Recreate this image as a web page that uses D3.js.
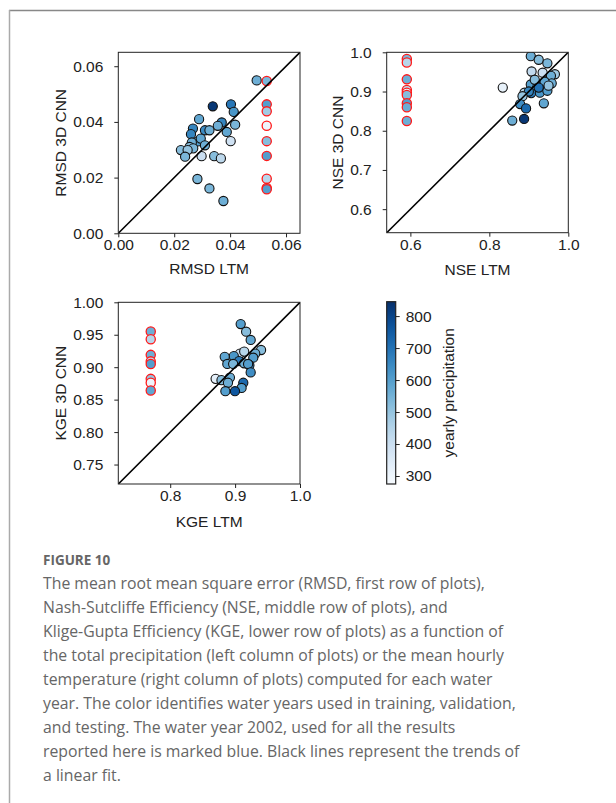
<!DOCTYPE html>
<html><head><meta charset="utf-8">
<script src="https://cdn.jsdelivr.net/npm/d3@7"></script>
<style>
html,body{margin:0;padding:0;background:#fff;}
svg{display:block;}
.tk text{font-family:'Liberation Sans', Arial, sans-serif !important; font-size:15.5px !important; fill:#222;}
</style></head>
<body>
<svg id="c" width="616" height="803"></svg>
<script>
// ---------- DATA ----------
// RMSD panel (blue: years with both models)
const rmsdLtm  = [0.0495,0.0338,0.0403,0.0413,0.0289,0.0370,0.0418,0.0356,0.0267,0.0310,0.0326,0.0388,0.0260,0.0285,0.0295,0.0402,0.0263,0.0310,0.0255,0.0268,0.0224,0.0248,0.0239,0.0298,0.0343,0.0367,0.0283,0.0326,0.0376];
const rmsdCnn  = [0.0549,0.0456,0.0463,0.0436,0.0410,0.0398,0.0390,0.0386,0.0376,0.0370,0.0370,0.0364,0.0356,0.0330,0.0340,0.0331,0.0326,0.0316,0.0310,0.0305,0.0299,0.0299,0.0275,0.0277,0.0277,0.0269,0.0195,0.0161,0.0116];
const rmsdPrec = [560,830,690,620,580,660,540,560,660,650,560,580,660,600,580,390,560,560,520,540,520,500,540,400,520,430,540,540,560];
const rmsdRedX = 0.0531;
const rmsdRedCnn  = [0.0547,0.0463,0.0438,0.0386,0.0331,0.0278,0.0196,0.0163,0.0158];
const rmsdRedPrec = [540,600,480,300,520,600,440,560,600];

// NSE panel
const nseLtm  = [0.905,0.925,0.947,0.907,0.935,0.966,0.956,0.834,0.905,0.938,0.958,0.920,0.915,0.940,0.889,0.906,0.928,0.947,0.925,0.900,0.950,0.884,0.878,0.893,0.938,0.858,0.888];
const nseCnn  = [0.990,0.981,0.972,0.951,0.948,0.944,0.940,0.910,0.918,0.918,0.921,0.908,0.930,0.925,0.897,0.896,0.897,0.902,0.910,0.900,0.915,0.888,0.868,0.857,0.870,0.826,0.830];
const nsePrec = [560,520,540,420,400,480,560,320,600,640,560,560,520,580,440,680,620,600,700,660,500,500,640,720,580,560,830];
const nseRedX = 0.591;
const nseRedCnn  = [0.983,0.974,0.931,0.904,0.897,0.891,0.870,0.860,0.825];
const nseRedPrec = [540,440,560,430,300,520,600,560,560];

// KGE panel
const kgeLtm  = [0.9086,0.917,0.924,0.940,0.931,0.9075,0.914,0.898,0.884,0.928,0.906,0.922,0.888,0.914,0.920,0.897,0.924,0.870,0.879,0.892,0.889,0.9126,0.910,0.885,0.8998];
const kgeCnn  = [0.9665,0.9547,0.942,0.9265,0.921,0.921,0.924,0.917,0.916,0.9146,0.9095,0.903,0.905,0.906,0.905,0.905,0.892,0.882,0.880,0.884,0.876,0.876,0.868,0.863,0.863];
const kgePrec = [600,520,580,520,560,400,440,620,580,600,680,660,580,560,600,540,640,330,520,560,560,720,600,600,760];
const kgeRedX = 0.770;
const kgeRedCnn  = [0.955,0.943,0.919,0.909,0.905,0.882,0.876,0.864];
const kgeRedPrec = [560,440,560,430,600,500,300,580];

// axes ticks
const rmsdTicks = [0.00,0.02,0.04,0.06];
const nseXTicks = [0.6,0.8,1.0];
const nseYTicks = [0.6,0.7,0.8,0.9,1.0];
const kgeXTicks = [0.8,0.9,1.0];
const kgeYTicks = [0.75,0.80,0.85,0.90,0.95,1.00];
const cbTicks   = [300,400,500,600,700,800];
const cbDomain  = [275,845];

const captionTitle = "FIGURE 10";
const captionLines = [
 "The mean root mean square error (RMSD, first row of plots),",
 "Nash-Sutcliffe Efficiency (NSE, middle row of plots), and",
 "Klige-Gupta Efficiency (KGE, lower row of plots) as a function of",
 "the total precipitation (left column of plots) or the mean hourly",
 "temperature (right column of plots) computed for each water",
 "year. The color identifies water years used in training, validation,",
 "and testing. The water year 2002, used for all the results",
 "reported here is marked blue. Black lines represent the trends of",
 "a linear fit."
];

// ---------- DRAW ----------
const svg = d3.select("#c");
const FONT = "'Liberation Sans', Arial, sans-serif";
const FS = 15.5;
const color = d3.scaleSequential(d3.interpolateBlues).domain(cbDomain);

// frame
svg.append("line").attr("x1",9).attr("x2",616).attr("y1",10.5).attr("y2",10.5).attr("stroke","#888").attr("stroke-width",1.5);
svg.append("line").attr("x1",9.5).attr("x2",9.5).attr("y1",10).attr("y2",803).attr("stroke","#aaa").attr("stroke-width",1.5);

function panel(o){
  const g = svg.append("g").attr("transform",`translate(${o.left},${o.top})`);
  const x = d3.scaleLinear().domain(o.dom).range([0,o.w]);
  const y = d3.scaleLinear().domain(o.dom).range([o.h,0]);
  const clipId = "clip"+o.id;
  g.append("clipPath").attr("id",clipId).append("rect").attr("width",o.w).attr("height",o.h);

  const xa = g.append("g").attr("class","tk").attr("transform",`translate(0,${o.h})`)
    .call(d3.axisBottom(x).tickValues(o.xt).tickFormat(d3.format(o.xf)).tickSize(4).tickPadding(2).tickSizeOuter(0));
  const ya = g.append("g").attr("class","tk")
    .call(d3.axisLeft(y).tickValues(o.yt).tickFormat(d3.format(o.yf)).tickSize(4).tickPadding(11).tickSizeOuter(0));
  [xa,ya].forEach(a=>{
    a.attr("font-size",null).attr("font-family",null);
    a.select(".domain").remove();
    a.selectAll("line").attr("stroke","#222");
  });

  const pts = g.append("g").attr("clip-path",`url(#${clipId})`);
  const blue = o.lx.map((v,i)=>({x:v,y:o.ly[i],p:o.lp[i]}));
  pts.selectAll("circle.b").data(blue).join("circle").attr("class","b")
    .attr("cx",d=>x(d.x)).attr("cy",d=>y(d.y)).attr("r",4.6)
    .attr("fill",d=>color(d.p)).attr("stroke","#111").attr("stroke-width",1.1);
  const red = o.ry.map((v,i)=>({x:o.rx,y:v,p:o.rp[i]}));
  pts.selectAll("circle.r").data(red).join("circle").attr("class","r")
    .attr("cx",d=>x(d.x)).attr("cy",d=>y(d.y)).attr("r",4.6)
    .attr("fill",d=>color(d.p)).attr("stroke","#ff1a1a").attr("stroke-width",1.3);
  pts.append("line").attr("x1",x(o.dom[0])).attr("y1",y(o.dom[0])).attr("x2",x(o.dom[1])).attr("y2",y(o.dom[1]))
    .attr("stroke","#000").attr("stroke-width",1.6);

  g.append("rect").attr("width",o.w).attr("height",o.h).attr("fill","none").attr("stroke","#222").attr("stroke-width",1);

  g.append("text").attr("x",o.w/2).attr("y",o.h+o.xlOff).attr("text-anchor","middle")
    .style("font-family",FONT).style("font-size",FS+"px").attr("fill","#222").text(o.xl);
  g.append("text").attr("transform",`translate(${o.ylX},${o.h/2}) rotate(-90)`).attr("text-anchor","middle")
    .style("font-family",FONT).style("font-size",FS+"px").attr("fill","#222").text(o.yl);
}

panel({id:1,left:118.3,top:52.3,w:181.7,h:181,dom:[0,0.065],xt:rmsdTicks,yt:rmsdTicks,xf:".2f",yf:".2f",
  lx:rmsdLtm,ly:rmsdCnn,lp:rmsdPrec,rx:rmsdRedX,ry:rmsdRedCnn,rp:rmsdRedPrec,
  xl:"RMSD LTM",yl:"RMSD 3D CNN",xlOff:41,ylX:-52.5});
panel({id:2,left:386.7,top:52.3,w:181.6,h:180.4,dom:[0.54,1.0],xt:nseXTicks,yt:nseYTicks,xf:".1f",yf:".1f",
  lx:nseLtm,ly:nseCnn,lp:nsePrec,rx:nseRedX,ry:nseRedCnn,rp:nseRedPrec,
  xl:"NSE LTM",yl:"NSE 3D CNN",xlOff:42,ylX:-44});
panel({id:3,left:118.3,top:302.3,w:181.7,h:181.7,dom:[0.72,1.0],xt:kgeXTicks,yt:kgeYTicks,xf:".1f",yf:".2f",
  lx:kgeLtm,ly:kgeCnn,lp:kgePrec,rx:kgeRedX,ry:kgeRedCnn,rp:kgeRedPrec,
  xl:"KGE LTM",yl:"KGE 3D CNN",xlOff:43.5,ylX:-52.5});

// colorbar
(function(){
  const L=386.7, T=301.7, W=9, H=182.3;
  const defs = svg.append("defs");
  const grad = defs.append("linearGradient").attr("id","cbg").attr("x1",0).attr("x2",0).attr("y1",1).attr("y2",0);
  d3.range(0,1.0001,0.05).forEach(t=>{
    grad.append("stop").attr("offset",t).attr("stop-color",color(cbDomain[0]+t*(cbDomain[1]-cbDomain[0])));
  });
  const g = svg.append("g").attr("transform",`translate(${L},${T})`);
  g.append("rect").attr("width",W).attr("height",H).attr("fill","url(#cbg)").attr("stroke","#222").attr("stroke-width",1.2);
  const s = d3.scaleLinear().domain(cbDomain).range([H,0]);
  const a = g.append("g").attr("class","tk").attr("transform",`translate(${W},0)`)
    .call(d3.axisRight(s).tickValues(cbTicks).tickFormat(d3.format("d")).tickSize(4).tickPadding(6).tickSizeOuter(0));
  a.attr("font-size",null).attr("font-family",null);
  a.select(".domain").remove();
  a.selectAll("line").attr("stroke","#222");
  g.append("text").attr("transform",`translate(${W+58},${H/2}) rotate(-90)`).attr("text-anchor","middle")
    .style("font-family",FONT).style("font-size",FS+"px").attr("fill","#222").text("yearly precipitation");
})();

// caption
svg.append("text").attr("x",43).attr("y",565).style("font-family","'Open Sans', sans-serif").attr("font-weight","bold")
  .style("font-size","13.5px").attr("fill","#666").text(captionTitle);
svg.append("g").selectAll("text").data(captionLines).join("text")
  .attr("x",43).attr("y",(d,i)=>589+i*24).style("font-family","'Open Sans', sans-serif")
  .style("font-size","15.8px").attr("fill","#666").text(d=>d);
</script>
</body></html>
